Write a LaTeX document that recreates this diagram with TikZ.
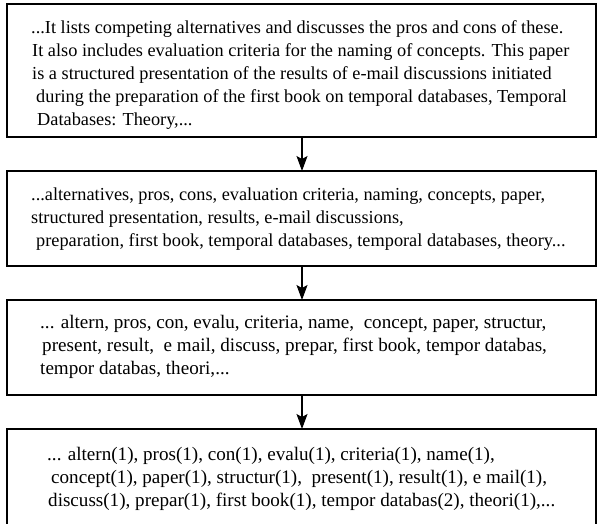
\documentclass[tikz,border=0pt]{standalone}
\usepackage{fontspec}
\setmainfont{Liberation Serif}
\usetikzlibrary{arrows.meta}
\begin{document}
\begin{tikzpicture}[x=1pt,y=-1pt,
  box/.style={draw=black,line width=1.6pt,fill=none},
  ln/.style={anchor=base west,inner sep=0pt,font=\fontsize{18.3}{22}\selectfont},
  lnb/.style={ln,font=\fontsize{19.1}{22}\selectfont},
  flow/.style={line width=1.2pt,-{Stealth[length=15pt,width=11pt,inset=3pt]}}]
\clip (0,0) rectangle (597,523);
\fill[white] (0,0) rectangle (597,523);
\draw[box] (7,4) rectangle (596,137);
\draw[box] (7,171) rectangle (596,266);
\draw[box] (7,300) rectangle (596,395);
\draw[box] (7,429) rectangle (596,560);
\coordinate (b1) at (302,137);
\coordinate (t2) at (302,171);
\coordinate (b2) at (302,266);
\coordinate (t3) at (302,300);
\coordinate (b3) at (302,395);
\coordinate (t4) at (302,429);
\draw[flow] (b1) -- (t2);
\draw[flow] (b2) -- (t3);
\draw[flow] (b3) -- (t4);
\node[ln] (l11) at (31,33) {...It lists competing alternatives and discusses the pros and cons of these.};
\node[ln] (l12) at (32,56) {It also includes evaluation criteria for the naming of concepts. This paper};
\node[ln] (l13) at (32,79) {is a structured presentation of the results of e-mail discussions initiated};
\node[ln] (l14) at (36,102) {during the preparation of the first book on temporal databases, Temporal};
\node[ln] (l15) at (37,125) {Databases: Theory,...};
\node[ln] (l21) at (31,200) {...alternatives, pros, cons, evaluation criteria, naming, concepts, paper,};
\node[ln] (l22) at (31,223) {structured presentation, results, e-mail discussions,};
\node[ln] (l23) at (36,246) {preparation, first book, temporal databases, temporal databases, theory...};
\node[lnb] (l31) at (40,328) {... altern, pros, con, evalu, criteria, name,\ \ concept, paper, structur,};
\node[lnb] (l32) at (42,351) {present, result,\ \ e mail, discuss, prepar, first book, tempor databas,};
\node[lnb] (l33) at (40,374) {tempor databas, theori,...};
\node[lnb] (l41) at (47,460) {... altern(1), pros(1), con(1), evalu(1), criteria(1), name(1),};
\node[lnb] (l42) at (51,483) {concept(1), paper(1), structur(1),\ \ present(1), result(1), e mail(1),};
\node[lnb] (l43) at (48,506) {discuss(1), prepar(1), first book(1), tempor databas(2), theori(1),...};
\end{tikzpicture}
\end{document}
